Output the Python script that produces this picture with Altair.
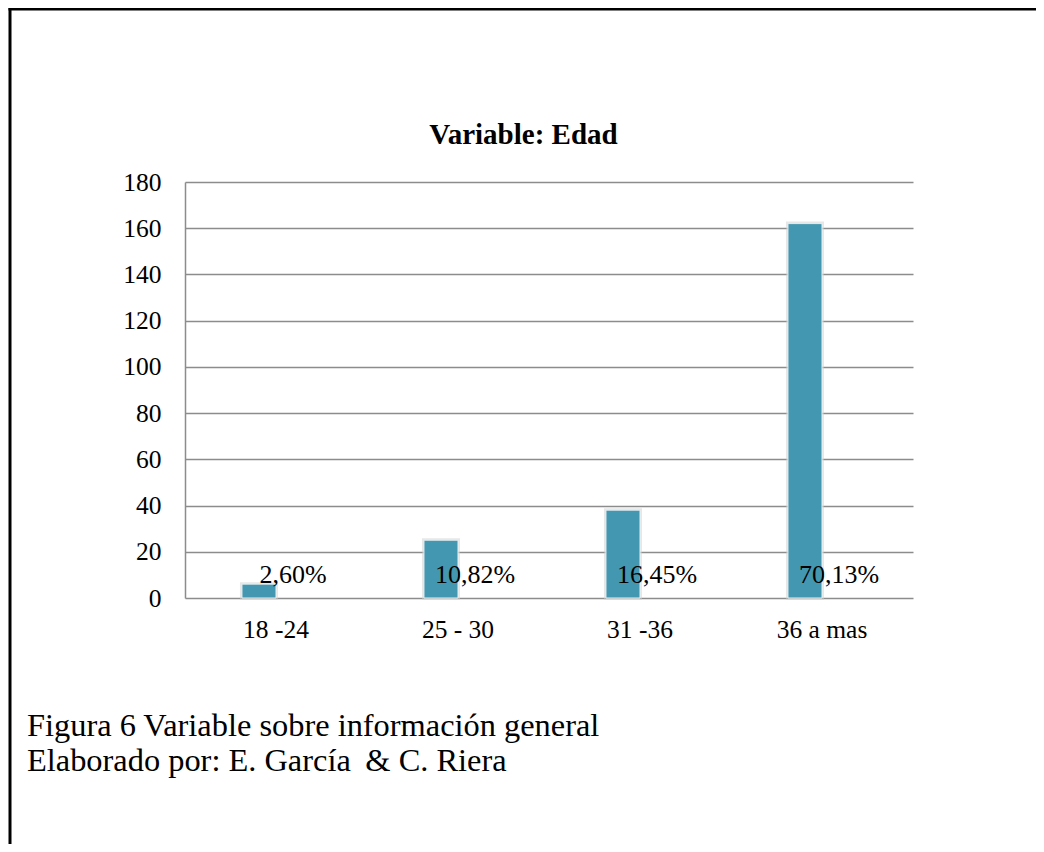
import altair as alt
import pandas as pd

categories = ["18 -24", "25 - 30", "31 -36", "36 a mas"]
counts = [6, 25, 38, 162]
pct_values = [0.026, 0.1082, 0.1645, 0.7013]
pct_labels = ["2,60%", "10,82%", "16,45%", "70,13%"]
series = ["Frecuencia", "Porcentaje"]
y_ticks = [0, 20, 40, 60, 80, 100, 120, 140, 160, 180]
title_text = "Variable: Edad"
caption_lines = ["Figura 6 Variable sobre información general",
                 "Elaborado por: E. García \u2009& C. Riera"]

rows = []
for c, n, p, pl in zip(categories, counts, pct_values, pct_labels):
    rows.append({"cat": c, "serie": series[0], "valor": n, "label": ""})
    rows.append({"cat": c, "serie": series[1], "valor": p, "label": pl})
df = pd.DataFrame(rows)

FONT = "Liberation Serif"
GRID = "#8c8c8c"
BAR = "#4497B0"
W, H = 728, 416

x_enc = alt.X("cat:N", sort=categories,
              scale=alt.Scale(paddingInner=0.626, paddingOuter=0.313),
              axis=alt.Axis(title=None, labelAngle=0, ticks=False, tickSize=0,
                            domain=False, grid=False, labelFontSize=25.5,
                            labelFont=FONT, labelColor="black", labelPadding=19))
xo_enc = alt.XOffset("serie:N", sort=series,
                     scale=alt.Scale(paddingInner=0, paddingOuter=0))
y_enc = alt.Y("valor:Q", scale=alt.Scale(domain=[0, 180], nice=False, zero=True),
              axis=alt.Axis(title=None, values=y_ticks, grid=True, gridColor=GRID,
                            gridWidth=1.5, gridOpacity=1, domain=True,
                            domainColor=GRID, domainWidth=1.5, ticks=False,
                            tickSize=0, labelFontSize=25.5, labelFont=FONT,
                            labelColor="black", labelPadding=24))

base = alt.Chart(df)

shadow = base.transform_filter(alt.datum.serie == series[0]).mark_bar(
    color=BAR, stroke="#cfcfcf", strokeWidth=4, strokeOpacity=0.5
).encode(x=x_enc, xOffset=xo_enc, y=y_enc)

bars = base.transform_filter(alt.datum.serie == series[0]).mark_bar(
    color=BAR, stroke="#e6eff2", strokeWidth=1
).encode(x=x_enc, xOffset=xo_enc, y=y_enc)

labels = base.transform_filter(alt.datum.serie == series[1]).mark_text(
    font=FONT, fontSize=26, color="black", baseline="alphabetic",
    align="center", dy=-15
).encode(x=x_enc, xOffset=xo_enc, y=alt.value(H), text="label:N")

title = alt.Chart(pd.DataFrame({"t": [title_text]})).mark_text(
    font=FONT, fontSize=29, fontWeight="bold", color="black",
    align="center", baseline="alphabetic"
).encode(x=alt.value(338.5), y=alt.value(-38), text="t:N")

cap1 = alt.Chart(pd.DataFrame({"t": [caption_lines[0]]})).mark_text(
    font=FONT, fontSize=32.4, color="black", align="left", baseline="alphabetic"
).encode(x=alt.value(-158), y=alt.value(554), text="t:N")

cap2 = alt.Chart(pd.DataFrame({"t": [caption_lines[1]]})).mark_text(
    font=FONT, fontSize=32.4, color="black", align="left", baseline="alphabetic"
).encode(x=alt.value(-158), y=alt.value(589), text="t:N")

border_left = alt.Chart(pd.DataFrame({"a": [0]})).mark_rule(
    color="black", strokeWidth=3
).encode(x=alt.value(-175), y=alt.value(-174), y2=alt.value(680))

border_top = alt.Chart(pd.DataFrame({"a": [0]})).mark_rule(
    color="black", strokeWidth=3
).encode(x=alt.value(-176.5), x2=alt.value(870), y=alt.value(-173))

chart = alt.layer(
    shadow, bars, labels, title, cap1, cap2, border_left, border_top
).properties(
    width=W, height=H,
    autosize=alt.AutoSizeParams(type="none"),
    padding={"left": 177, "top": 174, "right": 123, "bottom": 246},
    background="white",
).configure_view(stroke=None)

chart.save("out.html", embed_options={"renderer": "svg", "actions": False})
